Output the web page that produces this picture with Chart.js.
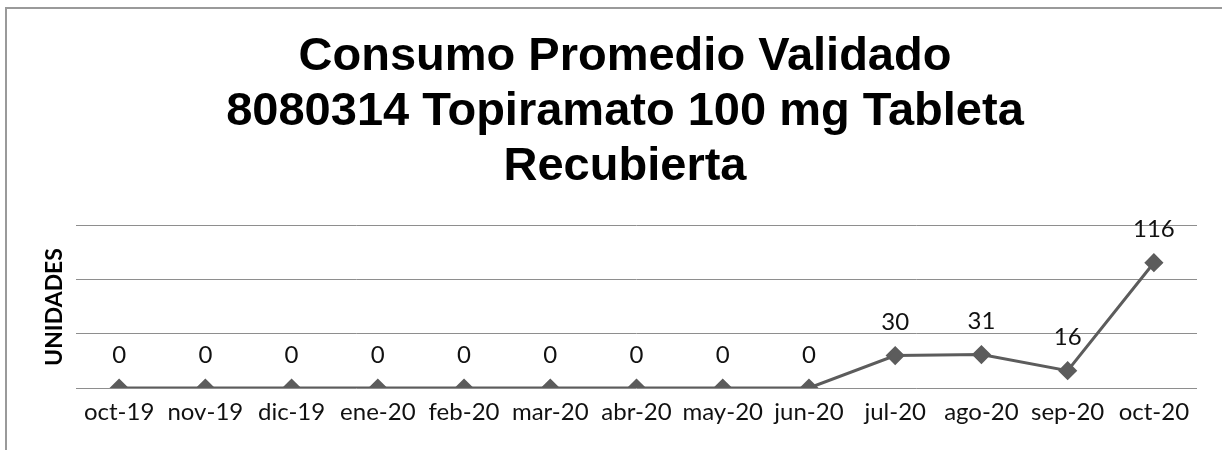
<!DOCTYPE html>
<html>
<head>
<meta charset="utf-8">
<script src="https://cdn.jsdelivr.net/npm/chart.js@4/dist/chart.umd.min.js"></script>
<style>
  html, body { margin: 0; padding: 0; background: #fff; }
  #marco {
    position: absolute; left: 5px; top: 7px; width: 1217px; height: 443px;
    border-left: 2px solid #9a9a9a; border-top: 2px solid #9a9a9a;
    box-sizing: border-box;
  }
  #wrap { position: absolute; left: 0; top: 0; width: 1222px; height: 450px; }
</style>
</head>
<body>
<div id="marco"></div>
<div id="wrap"><canvas id="myChart"></canvas></div>
<script>
const meses = ['oct-19', 'nov-19', 'dic-19', 'ene-20', 'feb-20', 'mar-20', 'abr-20',
               'may-20', 'jun-20', 'jul-20', 'ago-20', 'sep-20', 'oct-20'];
const consumo = [0, 0, 0, 0, 0, 0, 0, 0, 0, 30, 31, 16, 116];
const titulo = ['Consumo Promedio Validado', '8080314 Topiramato 100 mg Tableta', 'Recubierta'];

// etiquetas de valor encima de cada punto
const etiquetasValor = {
    id: 'etiquetasValor',
    afterDatasetsDraw(chart) {
        const ctx = chart.ctx;
        const meta = chart.getDatasetMeta(0);
        ctx.save();
        ctx.font = '24px Lato';
        ctx.fillStyle = '#111';
        ctx.textAlign = 'center';
        ctx.textBaseline = 'middle';
        meta.data.forEach((pt, i) => {
            ctx.fillText(String(consumo[i]), pt.x, pt.y - 33);
        });
        ctx.restore();
    }
};

const ctx = document.getElementById('myChart').getContext('2d');
let myChart = new Chart(ctx, {
    type: 'line',
    data: {
        labels: meses,
        datasets: [{
            label: 'Consumo',
            data: consumo,
            borderColor: '#5c5c5c',
            backgroundColor: '#5c5c5c',
            borderWidth: 3,
            pointStyle: 'rectRot',
            pointRadius: 7.5,
            pointHoverRadius: 7.5,
            tension: 0
        }]
    },
    options: {
        responsive: true,
        maintainAspectRatio: false,
        animation: false,
        // padding izquierdo para que el titulo quede centrado como en el original
        layout: { padding: { left: 53, right: 25, top: 0, bottom: 0 } },
        plugins: {
            legend: { display: false },
            tooltip: { enabled: false },
            title: {
                display: true,
                text: titulo,
                color: '#000',
                font: { family: 'Liberation Sans', size: 47, weight: 'bold', lineHeight: 1.17 },
                padding: { top: 30, bottom: 31 }
            }
        },
        scales: {
            x: {
                offset: true,
                grid: { display: false, drawTicks: false },
                border: { display: false },
                ticks: { color: '#111', font: { family: 'Lato', size: 24 }, padding: 10, maxRotation: 0, autoSkip: false },
                afterFit: (scale) => { scale.height = 62; }
            },
            y: {
                min: 0,
                max: 150,
                ticks: { display: false, stepSize: 50 },
                grid: { color: '#8e8e8e', lineWidth: 1, drawTicks: false },
                border: { display: false },
                title: {
                    display: true,
                    text: 'UNIDADES',
                    color: '#000',
                    font: { family: 'Lato', size: 23, weight: 'bold', lineHeight: 1.2 },
                    padding: { top: -12, bottom: 0 }
                },
                afterFit: (scale) => { scale.width = 23; }
            }
        }
    },
    plugins: [etiquetasValor]
});
</script>
</body>
</html>
